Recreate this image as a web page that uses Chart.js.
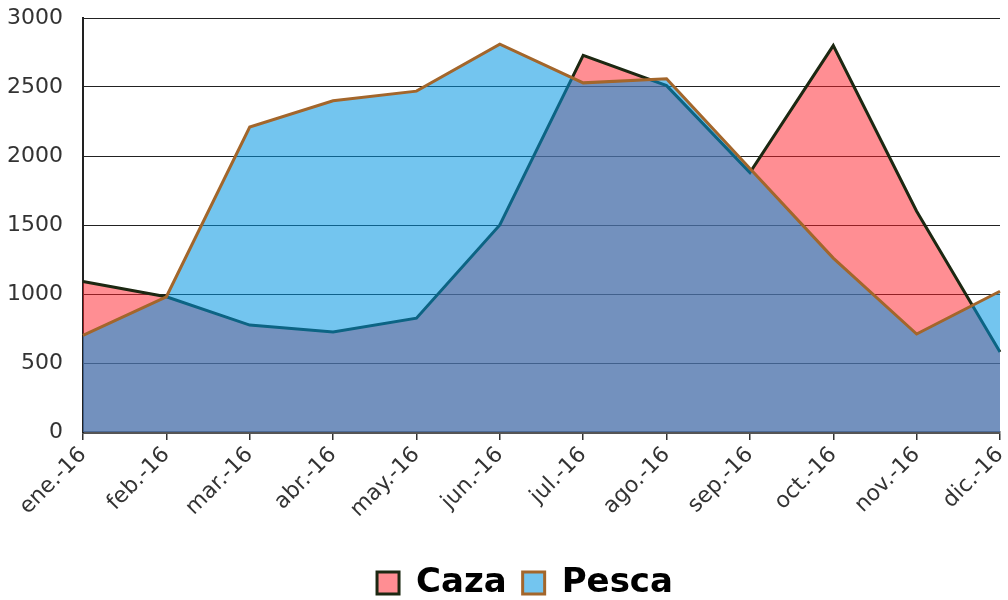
<!DOCTYPE html>
<html>
<head>
<meta charset="utf-8">
<script src="https://cdn.jsdelivr.net/npm/chart.js@4"></script>
<style>
  html, body { margin: 0; padding: 0; background: #fff; }
  #wrap { width: 1008px; height: 600px; }
</style>
</head>
<body>
<div id="wrap"><canvas id="chart"></canvas></div>
<script>
// datos
const months = ['ene.-16', 'feb.-16', 'mar.-16', 'abr.-16', 'may.-16', 'jun.-16',
                'jul.-16', 'ago.-16', 'sep.-16', 'oct.-16', 'nov.-16', 'dic.-16'];
const caza  = [1090, 980, 775, 725, 825, 1500, 2730, 2510, 1880, 2800, 1600, 580];
const pesca = [700, 980, 2210, 2400, 2470, 2810, 2530, 2560, 1910, 1260, 710, 1020];
const yTicks = [0, 500, 1000, 1500, 2000, 2500, 3000];

const font = 'DejaVu Sans';

// la leyenda del original esta un poco corrida a la derecha
const legendShift = {
    id: 'legendShift',
    afterLayout(chart) {
        chart.legend.left += 25;
        chart.legend.right += 25;
    }
};

const ctx = document.getElementById('chart').getContext('2d');
new Chart(ctx, {
    type: 'line',
    data: {
        labels: months,
        datasets: [
            {
                label: 'Caza', data: caza, order: 2,
                borderColor: '#1c2812', borderWidth: 3,
                backgroundColor: 'rgba(255, 30, 40, 0.5)',
                fill: 'origin', pointRadius: 0, tension: 0
            },
            {
                label: 'Pesca', data: pesca, order: 1,
                borderColor: '#a3662b', borderWidth: 3,
                backgroundColor: 'rgba(0, 150, 225, 0.55)',
                fill: 'origin', pointRadius: 0, tension: 0
            }
        ]
    },
    options: {
        responsive: true,
        maintainAspectRatio: false,
        animation: false,
        layout: { padding: { top: 18, right: 8, left: 0, bottom: -10 } },
        scales: {
            x: {
                offset: false,
                grid: { drawOnChartArea: false, drawTicks: true, tickLength: 8, color: '#333', lineWidth: 1.5 },
                border: { color: '#555', width: 3 },
                ticks: { color: '#333', font: { family: font, size: 22 }, maxRotation: 45, minRotation: 45, padding: 2 },
                afterFit: s => { s.height = 118; s.paddingLeft = 0; s.paddingRight = 0; }
            },
            y: {
                min: 0, max: 3000,
                afterBuildTicks: s => { s.ticks = yTicks.map(v => ({ value: v })); },
                grid: { color: '#222', lineWidth: 1, drawTicks: false },
                border: { color: '#222', width: 2 },
                ticks: { color: '#333', font: { family: font, size: 22 }, padding: 20, callback: v => String(v) },
                afterFit: s => { s.width = 83; s.paddingTop = 0; s.paddingBottom = 0; }
            }
        },
        plugins: {
            legend: {
                position: 'bottom',
                labels: {
                    sort: (a, b) => a.datasetIndex - b.datasetIndex,
                    color: '#000',
                    font: { family: font, size: 34, weight: 'bold' },
                    boxWidth: 22, boxHeight: 22, padding: 16
                }
            },
            tooltip: { enabled: false }
        }
    },
    plugins: [legendShift]
});
</script>
</body>
</html>
